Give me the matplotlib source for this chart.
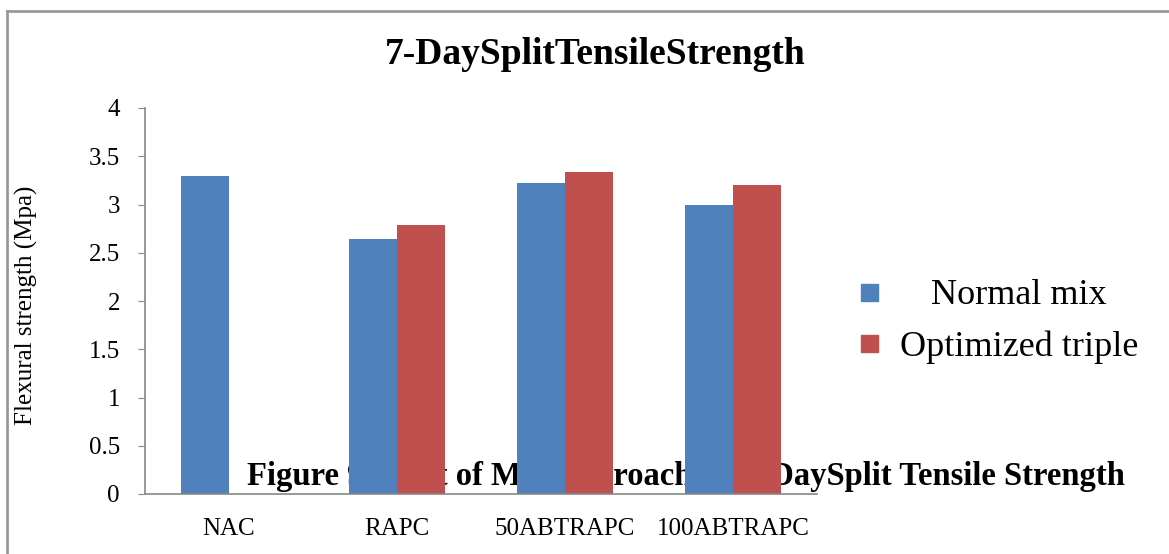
import matplotlib
matplotlib.use("Agg")
import matplotlib.pyplot as plt
from matplotlib.patches import Rectangle
from matplotlib.lines import Line2D
import numpy as np

plt.rcParams['font.family'] = ['Liberation Serif', 'DejaVu Serif']

# data
categories = ['NAC', 'RAPC', '50ABTRAPC', '100ABTRAPC']
normal_mix = [3.30, 2.64, 3.22, 3.00]
optimized_triple = [0.0, 2.79, 3.34, 3.20]
series_names = ['Normal mix', 'Optimized triple']
colors = ['#4F81BD', '#C0504D']

W, H = 1169, 554
fig = plt.figure(figsize=(W/100, H/100), dpi=100)
ax = fig.add_axes([145/W, 1-494/H, (817-145)/W, (494-108)/H])

x = np.arange(len(categories))
w = 1/3.5
ax.bar(x - w/2, normal_mix, width=w, color=colors[0], zorder=2)
ax.bar(x + w/2, optimized_triple, width=w, color=colors[1], zorder=2)

ax.set_xlim(-0.5, len(categories) - 0.5)
ax.set_ylim(0, 4)
ax.set_yticks(np.arange(0, 4.01, 0.5))
ax.set_yticklabels(['0', '0.5', '1', '1.5', '2', '2.5', '3', '3.5', '4'])
ax.set_xticks(x)
ax.set_xticklabels(categories)
ax.tick_params(axis='y', length=5, color='#888888', labelsize=18, pad=13, direction='out')
ax.tick_params(axis='x', length=0, labelsize=18, pad=17)
for s in ['top', 'right']:
    ax.spines[s].set_visible(False)
for s in ['left', 'bottom']:
    ax.spines[s].set_color('#888888')
    ax.spines[s].set_linewidth(1.2)

ax.set_ylabel('Flexural strength (Mpa)', fontsize=18)
ax.yaxis.set_label_coords(38/W, 1-305/H, transform=fig.transFigure)

fig.text(595/W, 1-55/H, '7-DaySplitTensileStrength', fontsize=27,
         fontweight='bold', ha='center', va='center')

# caption sitting behind the bars
ax.text(1125/W, 1-476/H, 'Figure 9 effect of Mix Approach on 7-DaySplit Tensile Strength',
        transform=fig.transFigure, fontsize=23.5, fontweight='bold', ha='right',
        va='center', zorder=1.5, clip_on=False)

# legend drawn by hand (centered labels)
for i, (name, c) in enumerate(zip(series_names, colors)):
    yc = 293 + i * 51
    fig.add_artist(Rectangle((861/W, 1-(yc+8)/H), 17/W, 17/H,
                             transform=fig.transFigure, color=c))
    fig.text(1019/W, 1-(yc+3)/H, name, fontsize=26, ha='center', va='center')

# outer frame (top and left)
fig.add_artist(Line2D([7/W, 7/W], [0, 1-11/H], transform=fig.transFigure,
                      color='#999999', lw=2))
fig.add_artist(Line2D([7/W, 1], [1-11/H, 1-11/H], transform=fig.transFigure,
                      color='#999999', lw=2))

fig.savefig('out.png', dpi=100)
